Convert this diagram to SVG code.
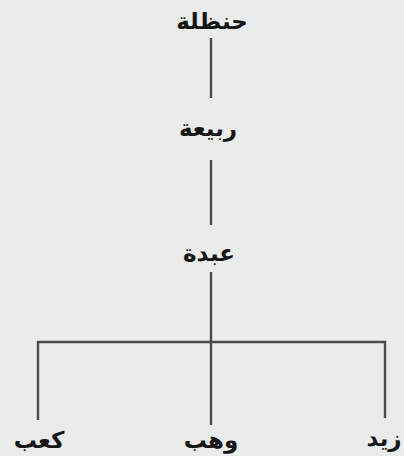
<svg xmlns="http://www.w3.org/2000/svg" width="404" height="456" viewBox="0 0 404 456">
<style>
.t{font-family:"DejaVu Sans",sans-serif;font-size:23px;font-weight:bold;fill:#161616;text-anchor:middle}
.c{stroke:#4a4a4a;stroke-width:2.4;fill:none}
</style>
<rect width="404" height="456" fill="#e9ecea"/>
<g id="connectors">
<line class="c" x1="211" y1="38" x2="211" y2="98"/>
<line class="c" x1="211" y1="160" x2="211" y2="225"/>
<line class="c" x1="211" y1="272" x2="211" y2="425"/>
<polyline class="c" points="38,420 38,342 385,342 385,418"/>
</g>
<g id="n-hanzala"><text class="t" x="212" y="29">حنظلة</text></g>
<g id="n-rabia"><text class="t" x="208" y="136">ربيعة</text></g>
<g id="n-abda"><text class="t" x="209" y="261">عبدة</text></g>
<g id="n-kab"><text class="t" x="39" y="448">كعب</text></g>
<g id="n-wahb"><text class="t" x="211" y="448">وهب</text></g>
<g id="n-zayd"><text class="t" x="384" y="446">زيد</text></g>
</svg>
